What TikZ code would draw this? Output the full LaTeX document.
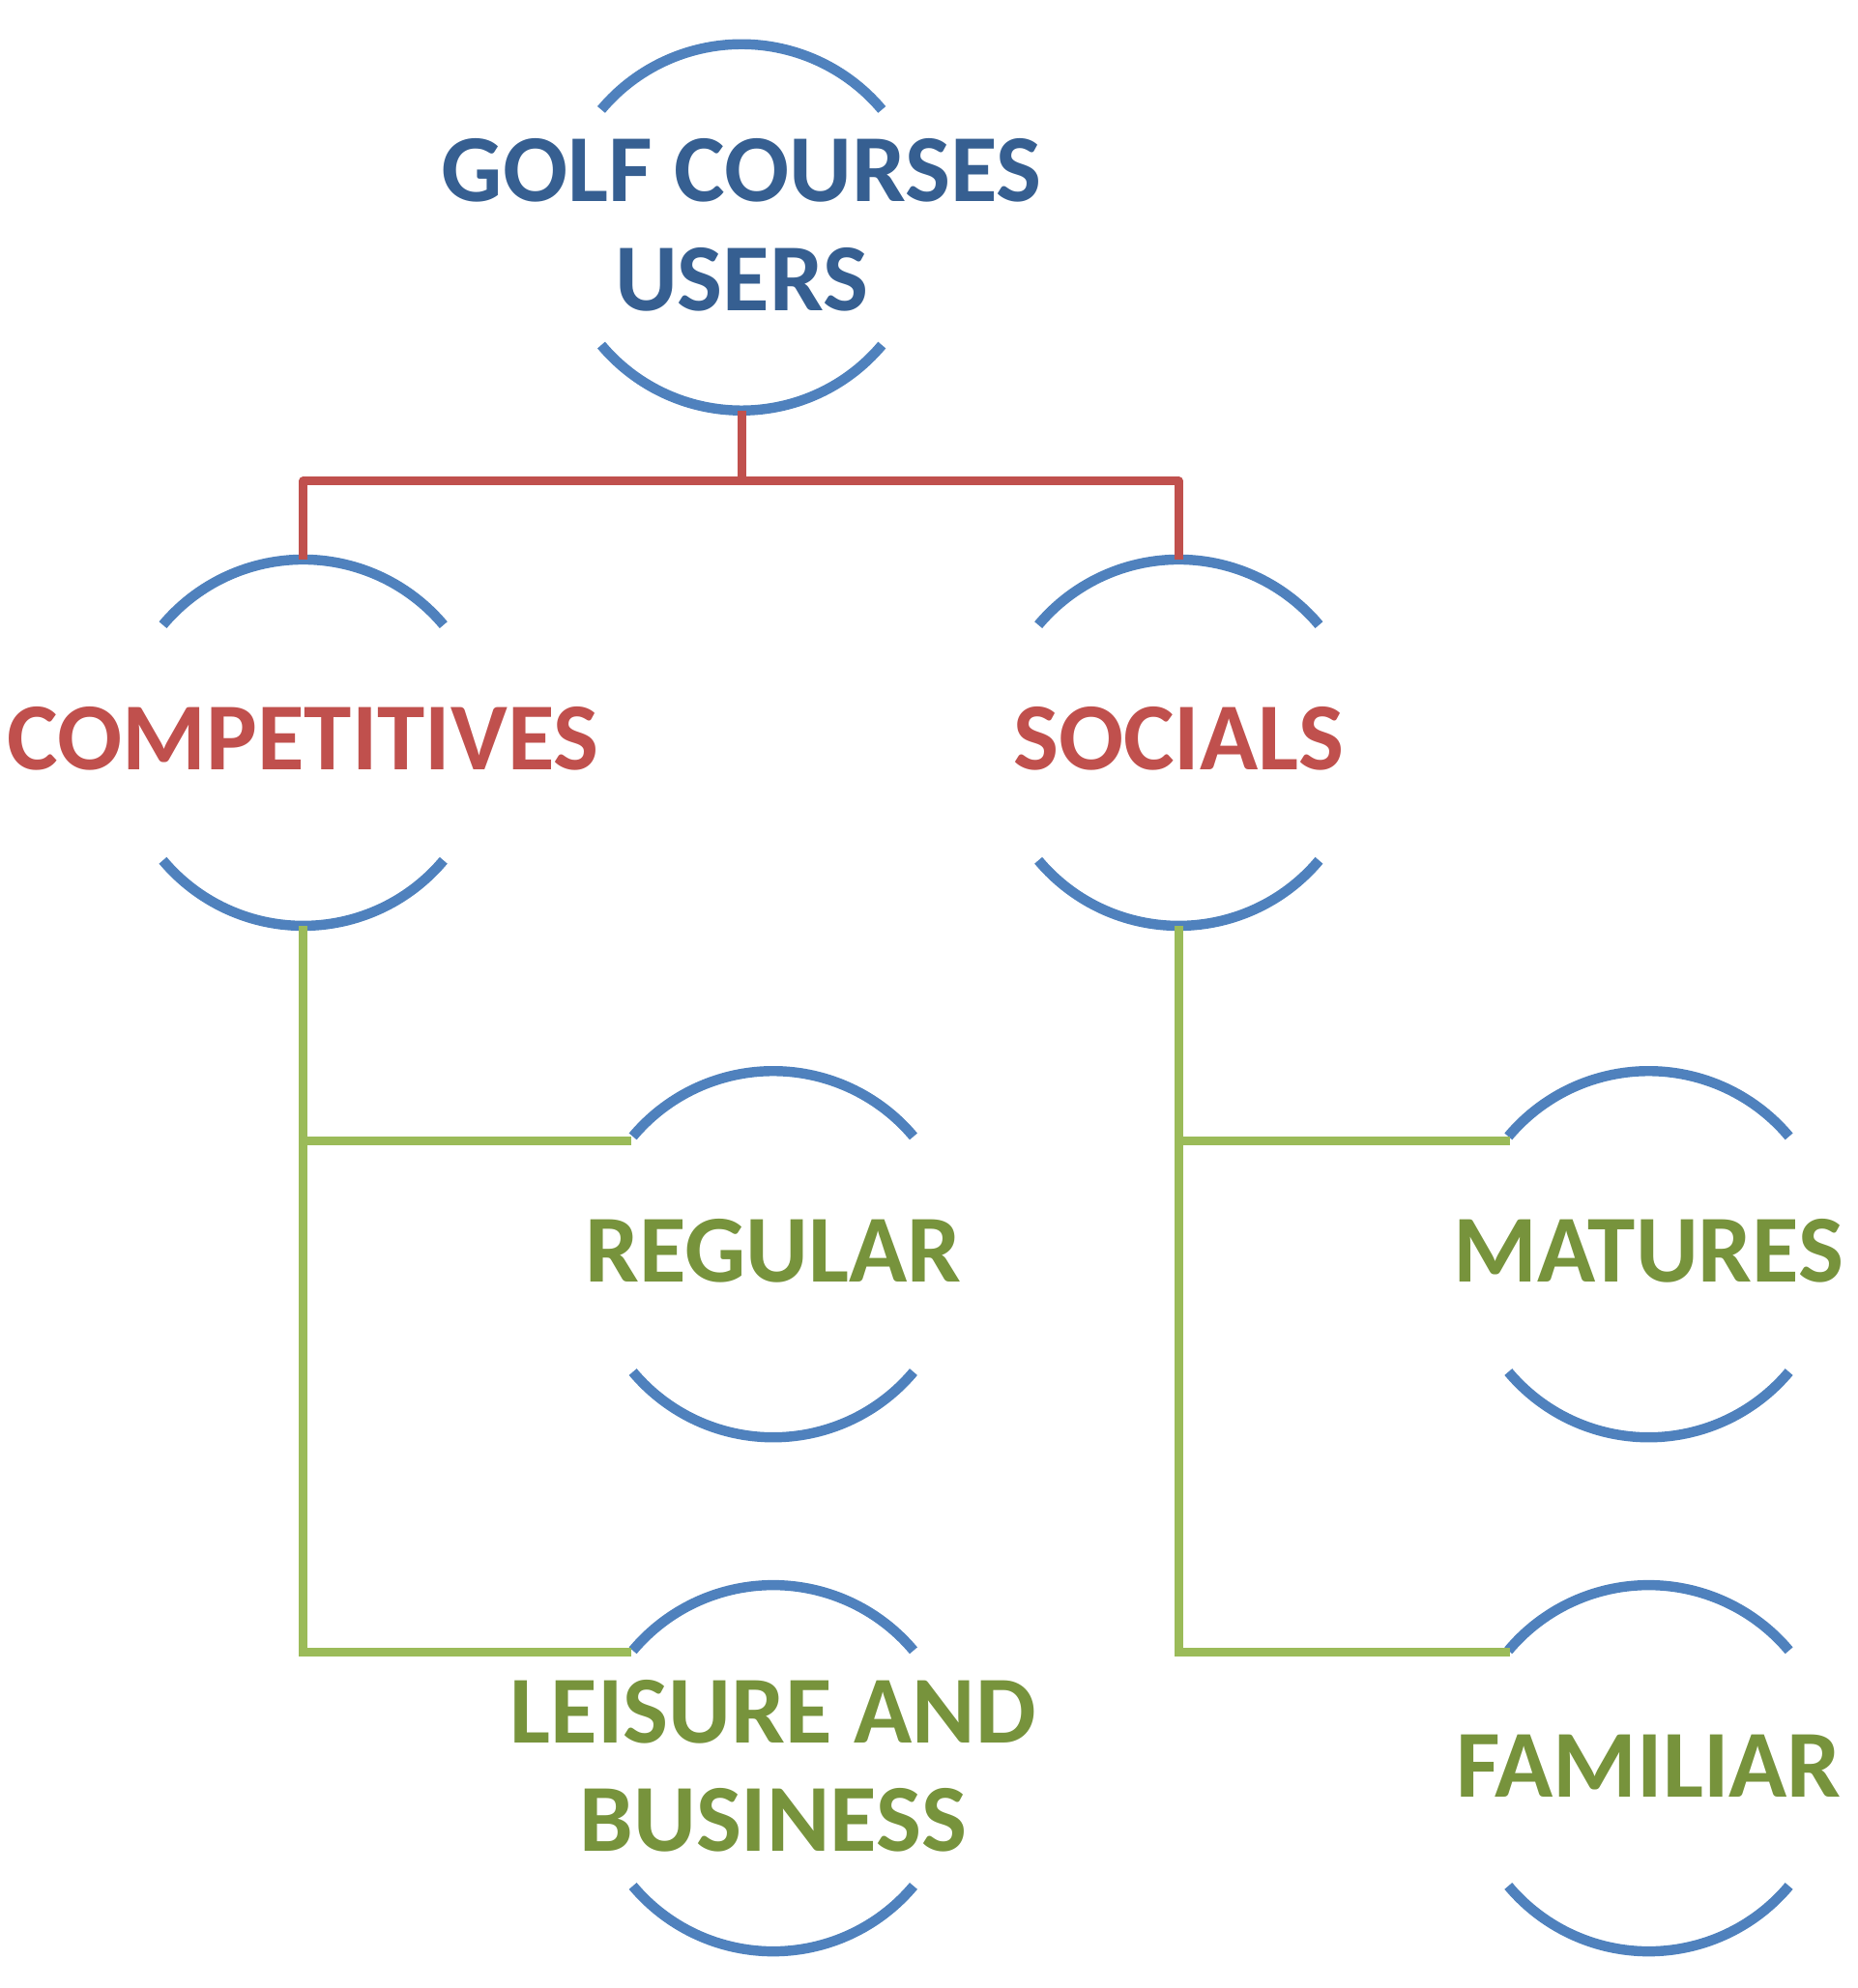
\documentclass[tikz,border=0pt]{standalone}
\usepackage{fontspec}
\setmainfont{Carlito}
\definecolor{arcblue}{HTML}{4F81BD}
\definecolor{tblue}{HTML}{365F91}
\definecolor{tred}{HTML}{C0504D}
\definecolor{lgreen}{HTML}{9BBB59}
\definecolor{tgreen}{HTML}{77933C}
\begin{document}
\begin{tikzpicture}[x=1pt,y=-1pt,
  arcs/.style={draw=arcblue,line width=8pt},
  lab/.style={font=\fontsize{76}{86}\selectfont\bfseries,align=center,inner sep=0},
  red/.style={draw=tred,line width=7pt},
  grn/.style={draw=lgreen,line width=7pt}]
\useasboundingbox (0,0) rectangle (1470,1574);
\newcommand{\twoarcs}[1]{%
  \draw[arcs] (#1) ++(220:145) arc (220:320:145);
  \draw[arcs] (#1) ++(40:145) arc (40:140:145);}
\coordinate (g) at (587,180);
\coordinate (c) at (240,588);
\coordinate (s) at (933,588);
\coordinate (r) at (612,993);
\coordinate (m) at (1305,993);
\coordinate (l) at (612,1400);
\coordinate (f) at (1305,1400);
\foreach \p in {g,c,s,r,m,l,f}{\twoarcs{\p}}
\node[lab,text=tblue] (gn) at (587,178) {GOLF COURSES\\USERS};
\node[lab,text=tred] (cn) at (240,585) {COMPETITIVES};
\node[lab,text=tred] (sn) at (933,585) {SOCIALS};
\node[lab,text=tgreen] (rn) at (612,990) {REGULAR};
\node[lab,text=tgreen] (mn) at (1305,990) {MATURES};
\node[lab,text=tgreen] (ln) at (612,1398) {LEISURE AND\\BUSINESS};
\node[lab,text=tgreen] (fn) at (1305,1398) {FAMILIAR};
\coordinate (gb) at (587,325);
\coordinate (ct) at (240,443);
\coordinate (st) at (933,443);
\coordinate (cb) at (240,733);
\coordinate (sb) at (933,733);
\coordinate (ra) at (500,903);
\coordinate (la) at (500,1308);
\coordinate (ma) at (1195,903);
\coordinate (fa) at (1195,1308);
\draw[red,line join=round] (gb) -- (587,381);
\draw[red,line join=round] (ct) |- (587,381) -| (st);
\draw[grn] (cb) |- (la);
\draw[grn] (240,903) -- (ra);
\draw[grn] (sb) |- (fa);
\draw[grn] (933,903) -- (ma);
\end{tikzpicture}
\end{document}
